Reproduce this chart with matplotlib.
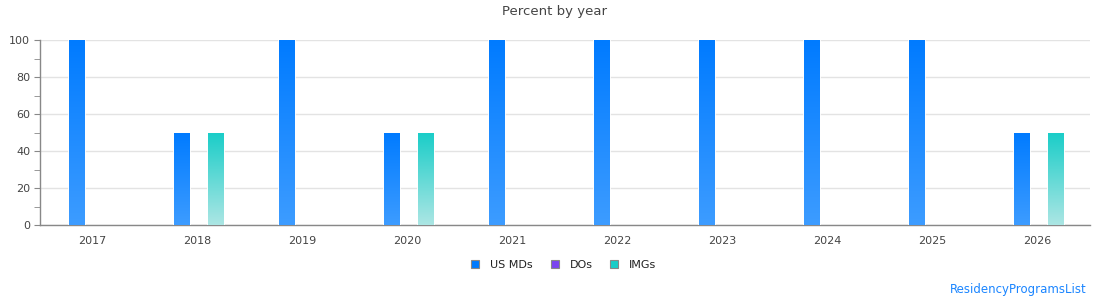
import numpy as np
from matplotlib import pyplot as plt
from matplotlib import ticker
from matplotlib.colors import LinearSegmentedColormap

years = ["2017", "2018", "2019", "2020", "2021", "2022", "2023", "2024", "2025", "2026"]
us_mds = [100, 50, 100, 50, 100, 100, 100, 100, 100, 50]
dos = [0, 0, 0, 0, 0, 0, 0, 0, 0, 0]
imgs = [0, 50, 0, 50, 0, 0, 0, 0, 0, 50]

series = [
    ("US MDs", us_mds, "#007bff", "#3d9cff"),
    ("DOs", dos, "#7b45f0", "#b9a0f7"),
    ("IMGs", imgs, "#19cdc8", "#ace6e4"),
]

plt.rcParams["font.family"] = "DejaVu Sans"

fig = plt.figure(figsize=(11.1, 3.0), dpi=100)
ax = fig.add_axes([40 / 1110, 75 / 300, 1050 / 1110, 185 / 300])

x = np.arange(len(years))
width = 0.152
offset = 0.162

for i, (name, vals, top, bottom) in enumerate(series):
    cmap = LinearSegmentedColormap.from_list(name, [bottom, top])
    grad = np.linspace(0, 1, 256).reshape(-1, 1)
    bars = ax.bar(x + (i - 1) * offset + 0.01, vals, width, color=top,
                  edgecolor="white", linewidth=1.2, label=name, zorder=3)
    for b, v in zip(bars, vals):
        if v <= 0:
            b.set_visible(False)
            continue
        x0 = b.get_x()
        im = ax.imshow(grad, cmap=cmap, origin="lower", aspect="auto",
                       extent=(x0, x0 + width, 0, v), zorder=3.5)
        im.set_clip_path(b)
        b.set_facecolor("none")

ax.set_xlim(-0.5, len(years) - 0.5)
ax.set_ylim(0, 100)
ax.set_xticks(x)
ax.set_xticklabels(years)
ax.yaxis.set_major_locator(ticker.MultipleLocator(20))
ax.yaxis.set_minor_locator(ticker.MultipleLocator(10))
ax.tick_params(axis="x", length=0, pad=8, labelsize=8, labelcolor="#444444")
ax.tick_params(axis="y", which="major", length=4, color="#888888",
               labelsize=8, labelcolor="#444444", pad=3)
ax.tick_params(axis="y", which="minor", length=4, color="#888888")

ax.grid(axis="y", color="#e3e3e3", linewidth=1, zorder=0)
ax.set_axisbelow(True)
for s in ["top", "right"]:
    ax.spines[s].set_visible(False)
for s in ["left", "bottom"]:
    ax.spines[s].set_color("#888888")
    ax.spines[s].set_linewidth(1)

fig.text(0.5, 1 - 12 / 300, "Percent by year", ha="center", va="center",
         fontsize=9.5, color="#444444")

handles = [plt.Rectangle((0, 0), 1, 1, facecolor=top, edgecolor="#888888", linewidth=0.8)
           for _, _, top, _ in series]
fig.legend(handles, [s[0] for s in series], loc="center",
           bbox_to_anchor=(564 / 1110, 1 - 265 / 300), ncol=3, frameon=False,
           fontsize=8, handlelength=0.7, handleheight=0.7, columnspacing=1.6,
           handletextpad=1.0, labelcolor="#222222")

fig.text(1087 / 1110, 1 - 290 / 300, "ResidencyProgramsList", ha="right",
         va="center", fontsize=8.5, color="#1a85ff")

fig.savefig("out.png", dpi=100)
